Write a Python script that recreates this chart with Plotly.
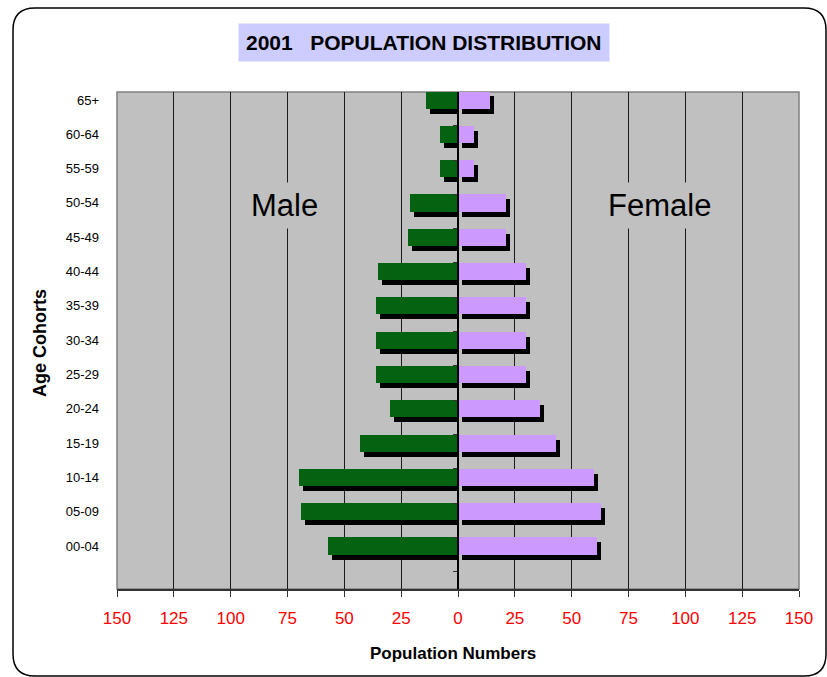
import plotly.graph_objects as go

# ---- data ----
age_groups = ["00-04", "05-09", "10-14", "15-19", "20-24", "25-29", "30-34",
              "35-39", "40-44", "45-49", "50-54", "55-59", "60-64", "65+"]
male = [57, 69, 70, 43, 30, 36, 36, 36, 35, 22, 21, 8, 8, 14]
female = [61, 63, 60, 43, 36, 30, 30, 30, 30, 21, 21, 7, 7, 14]
x_ticks = [-150, -125, -100, -75, -50, -25, 0, 25, 50, 75, 100, 125, 150]
x_tick_text = [str(abs(v)) for v in x_ticks]

# ---- layout constants (pixels) ----
W, H = 827, 677
L, R, T, B = 117, 799, 92, 589
PW, PH = R - L, B - T
XR = (-150, 150)
YR = (-1.253, 13.233)
px_x = (XR[1] - XR[0]) / PW          # data units per px horizontally
px_y = (YR[1] - YR[0]) / PH          # data units per px vertically
dx, dy = 4 * px_x, 5 * px_y          # shadow offset

idx = list(range(len(age_groups)))
GREEN = "#036311"
LAV = "#CC99FF"
BG = "#C0C0C0"
FONT = "Liberation Sans, Arial, sans-serif"

fig = go.Figure()
# shadows
fig.add_trace(go.Bar(y=[i - dy for i in idx], x=[-m + dx for m in male], orientation="h",
                     width=0.5, marker=dict(color="black", line=dict(width=0)),
                     hoverinfo="skip", showlegend=False))
fig.add_trace(go.Bar(y=[i - dy for i in idx], x=female, base=dx, orientation="h",
                     width=0.5, marker=dict(color="black", line=dict(width=0)),
                     hoverinfo="skip", showlegend=False))
# bars
fig.add_trace(go.Bar(y=idx, x=[-m for m in male], orientation="h", width=0.5,
                     marker=dict(color=GREEN, line=dict(width=0)), name="Male",
                     customdata=male, hovertemplate="%{customdata}<extra>Male</extra>",
                     showlegend=False))
fig.add_trace(go.Bar(y=idx, x=female, orientation="h", width=0.5,
                     marker=dict(color=LAV, line=dict(width=0)), name="Female",
                     hovertemplate="%{x}<extra>Female</extra>", showlegend=False))


def pxp(x, y):
    return ((x - L) / PW, (B - y) / PH)


# rounded outer border
x0, y0, x1, y1, r = 13, 8, 826, 676, 22
def P(x, y):
    a, b = pxp(x, y)
    return f"{a:.5f},{b:.5f}"
path = (f"M {P(x0 + r, y0)} L {P(x1 - r, y0)} Q {P(x1, y0)} {P(x1, y0 + r)} "
        f"L {P(x1, y1 - r)} Q {P(x1, y1)} {P(x1 - r, y1)} "
        f"L {P(x0 + r, y1)} Q {P(x0, y1)} {P(x0, y1 - r)} "
        f"L {P(x0, y0 + r)} Q {P(x0, y0)} {P(x0 + r, y0)} Z")

shapes = [
    dict(type="path", path=path, xref="paper", yref="paper",
         line=dict(color="black", width=1.5), layer="above"),
    dict(type="rect", xref="paper", yref="paper", x0=0, y0=0, x1=1, y1=1,
         line=dict(color="#808080", width=1.5), layer="below"),
]

annotations = [
    dict(text="<b>2001   POPULATION DISTRIBUTION</b>", xref="paper", yref="paper",
         x=pxp(424, 0)[0], y=pxp(0, 42)[1], showarrow=False,
         font=dict(family=FONT, size=21, color="black"),
         bgcolor="#CCCCFF", borderpad=7, xanchor="center", yanchor="middle"),
    dict(text="Male", x=-76.5, y=9.92, xref="x", yref="y", showarrow=False,
         font=dict(family=FONT, size=31, color="black"), bgcolor=BG, borderpad=5),
    dict(text="Female", x=88.5, y=9.92, xref="x", yref="y", showarrow=False,
         font=dict(family=FONT, size=31, color="black"), bgcolor=BG, borderpad=5),
    dict(text="<b>Population Numbers</b>", xref="paper", yref="paper",
         x=pxp(453, 0)[0], y=pxp(0, 653)[1], showarrow=False,
         xanchor="center", yanchor="middle",
         font=dict(family=FONT, size=17, color="black")),
    dict(text="<b>Age Cohorts</b>", xref="paper", yref="paper", textangle=-90,
         x=pxp(40, 0)[0], y=pxp(0, 343)[1], showarrow=False,
         xanchor="center", yanchor="middle",
         font=dict(family=FONT, size=18, color="black")),
]

fig.update_layout(
    width=W, height=H,
    margin=dict(l=L, r=W - R, t=T, b=H - B, pad=0),
    paper_bgcolor="white", plot_bgcolor=BG,
    barmode="overlay", bargap=0,
    shapes=shapes, annotations=annotations,
    font=dict(family=FONT),
    xaxis=dict(range=list(XR), tickvals=x_ticks, ticktext=x_tick_text,
               showgrid=True, gridcolor="#1a1a1a", gridwidth=1, zeroline=False,
               showline=True, linecolor="#333333", linewidth=1.5,
               ticks="outside", ticklen=6, tickcolor="#333333",
               tickfont=dict(family=FONT, size=17, color="red"),
               ticklabelstandoff=7, fixedrange=True),
    yaxis=dict(range=list(YR), tickvals=idx, ticktext=age_groups,
               showgrid=False, zeroline=False, showline=False,
               ticks="", tickfont=dict(family=FONT, size=13, color="black"),
               ticklabelstandoff=17, fixedrange=True),
    yaxis2=dict(range=list(YR), overlaying="y", anchor="free", position=0.5,
                side="left", showline=True, linecolor="black", linewidth=1.5,
                tickvals=[i + 0.25 for i in range(-1, len(age_groups))],
                ticks="outside", ticklen=4, tickcolor="#333333",
                showticklabels=False, showgrid=False, zeroline=False,
                fixedrange=True),
)
# dummy trace to show yaxis2
fig.add_trace(go.Scatter(x=[None], y=[None], yaxis="y2", showlegend=False,
                         hoverinfo="skip"))

fig.write_html("out.html", config={"displayModeBar": False},
               post_script="document.body.style.margin='0px';document.body.style.overflow='hidden';")
